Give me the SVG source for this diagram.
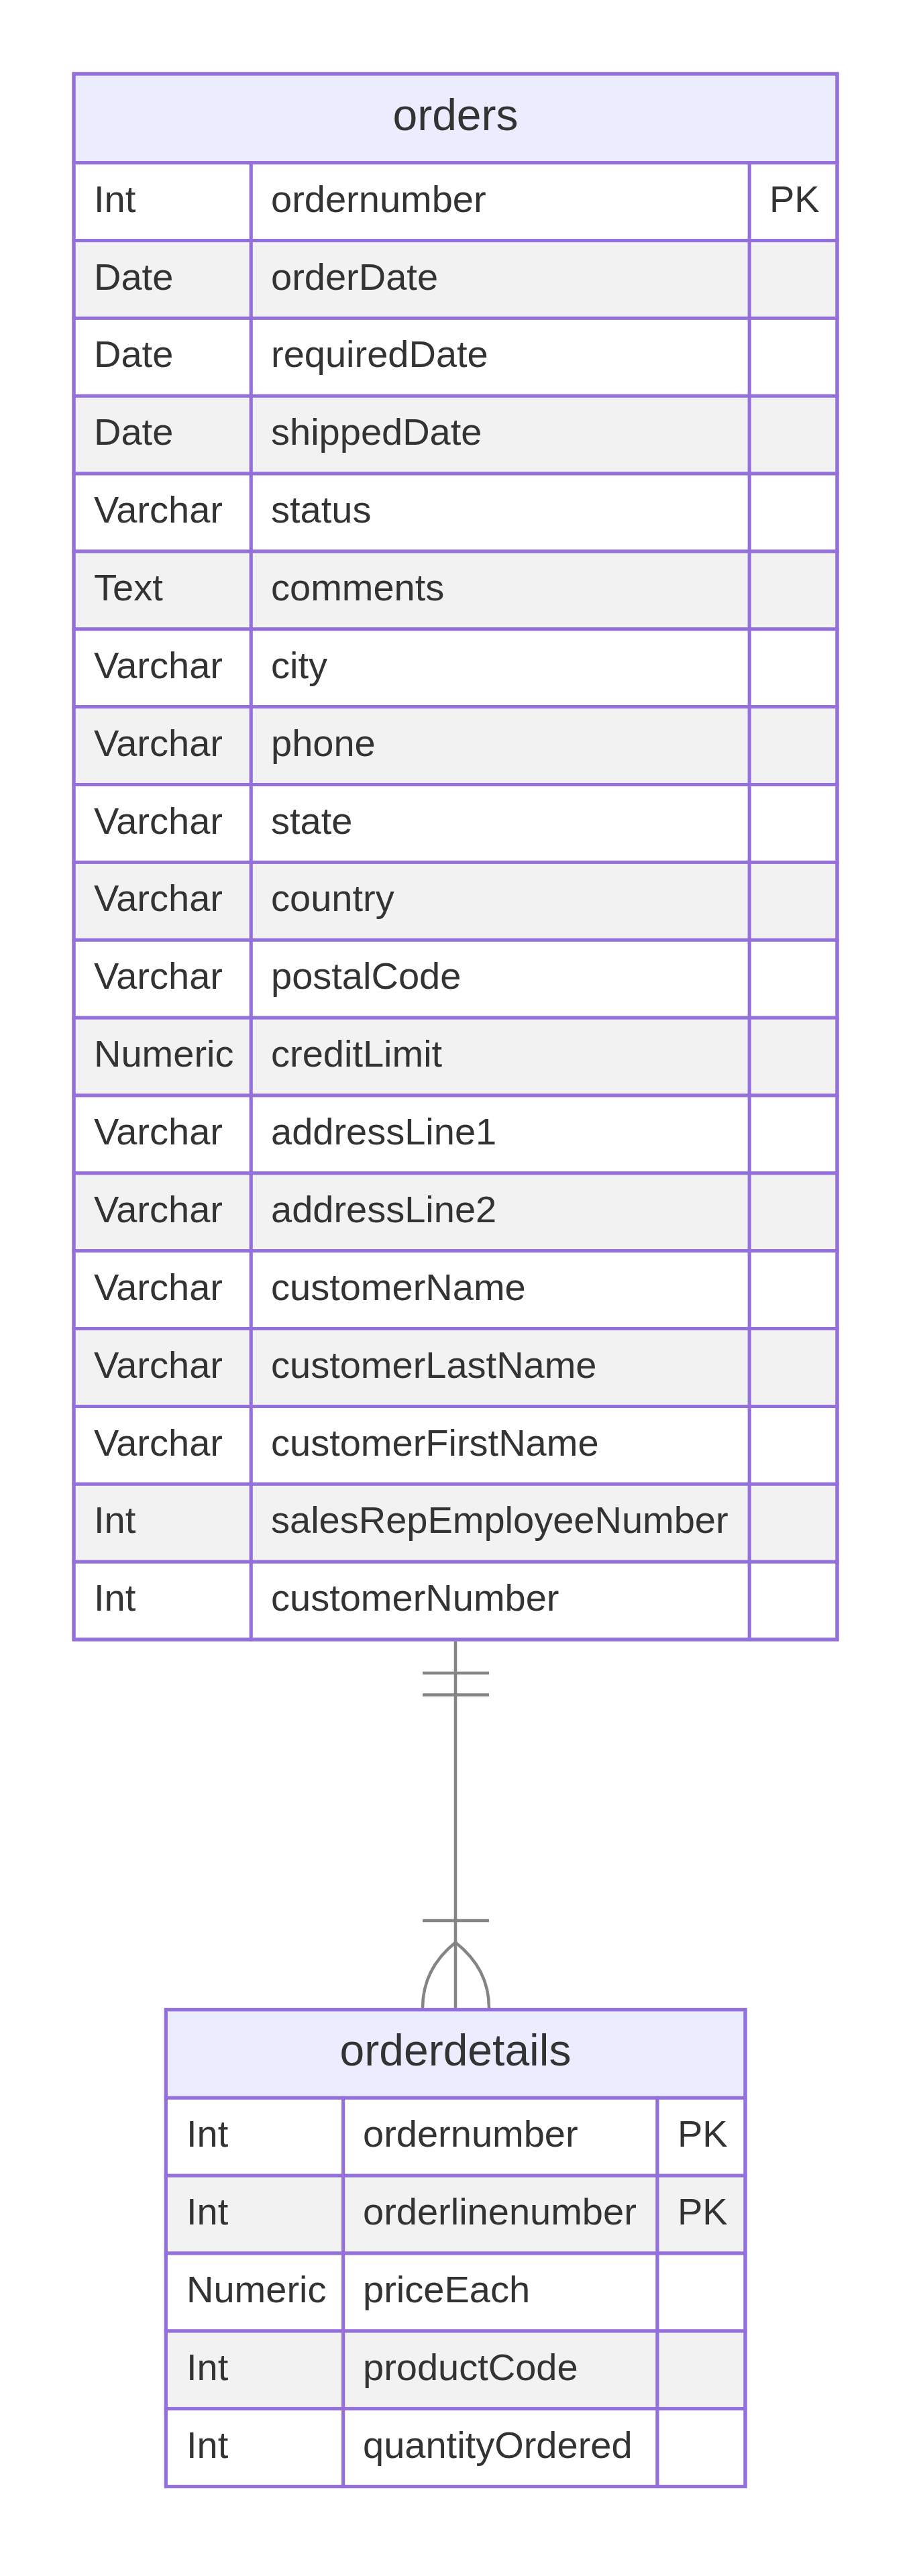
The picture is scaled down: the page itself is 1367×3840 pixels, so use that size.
<svg xmlns="http://www.w3.org/2000/svg" width="1367" height="3840" viewBox="0 0 1367 3840">
<style>
.bg{fill:#ffffff}
.hdr{fill:#ECECFF;stroke:#9370DB;stroke-width:5}
.ro{fill:#ffffff;stroke:#9370DB;stroke-width:5}
.re{fill:#F2F2F2;stroke:#9370DB;stroke-width:5}
.box{fill:none;stroke:#9370DB;stroke-width:5}
.t{font-family:"Liberation Sans",Arial,sans-serif;font-size:56px;fill:#333333}
.title{font-family:"Liberation Sans",Arial,sans-serif;font-size:66px;fill:#333333;text-anchor:middle}
.rel{fill:none;stroke:#848484;stroke-width:4.5}
</style>
<rect class="bg" x="0" y="0" width="1367" height="3840"/>
<g id="orders">
<rect class="hdr" x="110" y="110" width="1138" height="132.7"/>
<text class="title" x="679" y="194">orders</text>
<g id="orders-rows">
<rect class="ro" x="110" y="242.7" width="264.3" height="115.9"/><rect class="ro" x="374.3" y="242.7" width="743" height="115.9"/><rect class="ro" x="1117.3" y="242.7" width="130.7" height="115.9"/>
<rect class="re" x="110" y="358.6" width="264.3" height="115.8"/><rect class="re" x="374.3" y="358.6" width="743" height="115.8"/><rect class="re" x="1117.3" y="358.6" width="130.7" height="115.8"/>
<rect class="ro" x="110" y="474.4" width="264.3" height="115.9"/><rect class="ro" x="374.3" y="474.4" width="743" height="115.9"/><rect class="ro" x="1117.3" y="474.4" width="130.7" height="115.9"/>
<rect class="re" x="110" y="590.3" width="264.3" height="115.8"/><rect class="re" x="374.3" y="590.3" width="743" height="115.8"/><rect class="re" x="1117.3" y="590.3" width="130.7" height="115.8"/>
<rect class="ro" x="110" y="706.1" width="264.3" height="115.9"/><rect class="ro" x="374.3" y="706.1" width="743" height="115.9"/><rect class="ro" x="1117.3" y="706.1" width="130.7" height="115.9"/>
<rect class="re" x="110" y="822.0" width="264.3" height="115.9"/><rect class="re" x="374.3" y="822.0" width="743" height="115.9"/><rect class="re" x="1117.3" y="822.0" width="130.7" height="115.9"/>
<rect class="ro" x="110" y="937.9" width="264.3" height="115.8"/><rect class="ro" x="374.3" y="937.9" width="743" height="115.8"/><rect class="ro" x="1117.3" y="937.9" width="130.7" height="115.8"/>
<rect class="re" x="110" y="1053.7" width="264.3" height="115.9"/><rect class="re" x="374.3" y="1053.7" width="743" height="115.9"/><rect class="re" x="1117.3" y="1053.7" width="130.7" height="115.9"/>
<rect class="ro" x="110" y="1169.6" width="264.3" height="115.8"/><rect class="ro" x="374.3" y="1169.6" width="743" height="115.8"/><rect class="ro" x="1117.3" y="1169.6" width="130.7" height="115.8"/>
<rect class="re" x="110" y="1285.4" width="264.3" height="115.9"/><rect class="re" x="374.3" y="1285.4" width="743" height="115.9"/><rect class="re" x="1117.3" y="1285.4" width="130.7" height="115.9"/>
<rect class="ro" x="110" y="1401.3" width="264.3" height="115.9"/><rect class="ro" x="374.3" y="1401.3" width="743" height="115.9"/><rect class="ro" x="1117.3" y="1401.3" width="130.7" height="115.9"/>
<rect class="re" x="110" y="1517.2" width="264.3" height="115.8"/><rect class="re" x="374.3" y="1517.2" width="743" height="115.8"/><rect class="re" x="1117.3" y="1517.2" width="130.7" height="115.8"/>
<rect class="ro" x="110" y="1633.0" width="264.3" height="115.9"/><rect class="ro" x="374.3" y="1633.0" width="743" height="115.9"/><rect class="ro" x="1117.3" y="1633.0" width="130.7" height="115.9"/>
<rect class="re" x="110" y="1748.9" width="264.3" height="115.8"/><rect class="re" x="374.3" y="1748.9" width="743" height="115.8"/><rect class="re" x="1117.3" y="1748.9" width="130.7" height="115.8"/>
<rect class="ro" x="110" y="1864.7" width="264.3" height="115.9"/><rect class="ro" x="374.3" y="1864.7" width="743" height="115.9"/><rect class="ro" x="1117.3" y="1864.7" width="130.7" height="115.9"/>
<rect class="re" x="110" y="1980.6" width="264.3" height="115.9"/><rect class="re" x="374.3" y="1980.6" width="743" height="115.9"/><rect class="re" x="1117.3" y="1980.6" width="130.7" height="115.9"/>
<rect class="ro" x="110" y="2096.5" width="264.3" height="115.8"/><rect class="ro" x="374.3" y="2096.5" width="743" height="115.8"/><rect class="ro" x="1117.3" y="2096.5" width="130.7" height="115.8"/>
<rect class="re" x="110" y="2212.3" width="264.3" height="115.9"/><rect class="re" x="374.3" y="2212.3" width="743" height="115.9"/><rect class="re" x="1117.3" y="2212.3" width="130.7" height="115.9"/>
<rect class="ro" x="110" y="2328.2" width="264.3" height="115.8"/><rect class="ro" x="374.3" y="2328.2" width="743" height="115.8"/><rect class="ro" x="1117.3" y="2328.2" width="130.7" height="115.8"/>
</g>
<rect class="box" x="110" y="110" width="1138" height="2334"/>
<g id="orders-text">
<text class="t" x="140" y="315.7">Int</text><text class="t" x="404" y="315.7">ordernumber</text><text class="t" x="1147" y="315.7">PK</text>
<text class="t" x="140" y="431.6">Date</text><text class="t" x="404" y="431.6">orderDate</text>
<text class="t" x="140" y="547.4">Date</text><text class="t" x="404" y="547.4">requiredDate</text>
<text class="t" x="140" y="663.3">Date</text><text class="t" x="404" y="663.3">shippedDate</text>
<text class="t" x="140" y="779.1">Varchar</text><text class="t" x="404" y="779.1">status</text>
<text class="t" x="140" y="895.0">Text</text><text class="t" x="404" y="895.0">comments</text>
<text class="t" x="140" y="1010.9">Varchar</text><text class="t" x="404" y="1010.9">city</text>
<text class="t" x="140" y="1126.7">Varchar</text><text class="t" x="404" y="1126.7">phone</text>
<text class="t" x="140" y="1242.6">Varchar</text><text class="t" x="404" y="1242.6">state</text>
<text class="t" x="140" y="1358.4">Varchar</text><text class="t" x="404" y="1358.4">country</text>
<text class="t" x="140" y="1474.3">Varchar</text><text class="t" x="404" y="1474.3">postalCode</text>
<text class="t" x="140" y="1590.2">Numeric</text><text class="t" x="404" y="1590.2">creditLimit</text>
<text class="t" x="140" y="1706.0">Varchar</text><text class="t" x="404" y="1706.0">addressLine1</text>
<text class="t" x="140" y="1821.9">Varchar</text><text class="t" x="404" y="1821.9">addressLine2</text>
<text class="t" x="140" y="1937.7">Varchar</text><text class="t" x="404" y="1937.7">customerName</text>
<text class="t" x="140" y="2053.6">Varchar</text><text class="t" x="404" y="2053.6">customerLastName</text>
<text class="t" x="140" y="2169.5">Varchar</text><text class="t" x="404" y="2169.5">customerFirstName</text>
<text class="t" x="140" y="2285.3">Int</text><text class="t" x="404" y="2285.3">salesRepEmployeeNumber</text>
<text class="t" x="140" y="2401.2">Int</text><text class="t" x="404" y="2401.2">customerNumber</text>
</g>
</g>
<g id="orderdetails">
<rect class="hdr" x="247.3" y="2995.7" width="863.7" height="131.6"/>
<text class="title" x="679" y="3079">orderdetails</text>
<g id="orderdetails-rows">
<rect class="ro" x="247.3" y="3127.3" width="264.4" height="115.9"/><rect class="ro" x="511.7" y="3127.3" width="468.3" height="115.9"/><rect class="ro" x="980" y="3127.3" width="131" height="115.9"/>
<rect class="re" x="247.3" y="3243.2" width="264.4" height="115.8"/><rect class="re" x="511.7" y="3243.2" width="468.3" height="115.8"/><rect class="re" x="980" y="3243.2" width="131" height="115.8"/>
<rect class="ro" x="247.3" y="3359.0" width="264.4" height="115.9"/><rect class="ro" x="511.7" y="3359.0" width="468.3" height="115.9"/><rect class="ro" x="980" y="3359.0" width="131" height="115.9"/>
<rect class="re" x="247.3" y="3474.9" width="264.4" height="115.8"/><rect class="re" x="511.7" y="3474.9" width="468.3" height="115.8"/><rect class="re" x="980" y="3474.9" width="131" height="115.8"/>
<rect class="ro" x="247.3" y="3590.7" width="264.4" height="115.9"/><rect class="ro" x="511.7" y="3590.7" width="468.3" height="115.9"/><rect class="ro" x="980" y="3590.7" width="131" height="115.9"/>
</g>
<rect class="box" x="247.3" y="2995.7" width="863.7" height="710.9"/>
<g id="orderdetails-text">
<text class="t" x="278" y="3200.3">Int</text><text class="t" x="541" y="3200.3">ordernumber</text><text class="t" x="1010" y="3200.3">PK</text>
<text class="t" x="278" y="3316.2">Int</text><text class="t" x="541" y="3316.2">orderlinenumber</text><text class="t" x="1010" y="3316.2">PK</text>
<text class="t" x="278" y="3432.0">Numeric</text><text class="t" x="541" y="3432.0">priceEach</text>
<text class="t" x="278" y="3547.9">Int</text><text class="t" x="541" y="3547.9">productCode</text>
<text class="t" x="278" y="3663.7">Int</text><text class="t" x="541" y="3663.7">quantityOrdered</text>
</g>
</g>
<g id="connectors">
<path class="rel" d="M679,2446.5 L679,2993.2"/>
<path class="rel" d="M630,2494 L729,2494 M630,2526.5 L729,2526.5"/>
<path class="rel" d="M630,2863 L729,2863"/>
<path class="rel" d="M630,2993.2 Q630,2935 679,2895.5 Q729,2935 729,2993.2"/>
</g>
</svg>
